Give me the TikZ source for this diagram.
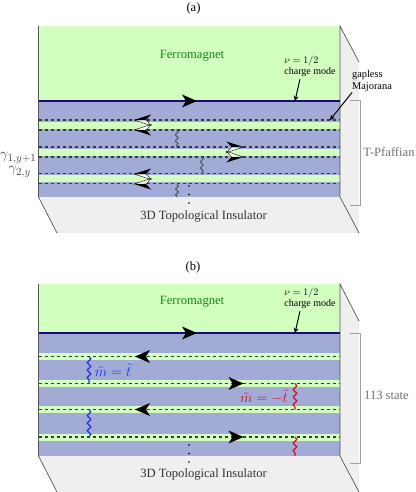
\documentclass[tikz,border=0pt]{standalone}
\usepackage{fontspec}
\setmainfont{Liberation Serif}
\usetikzlibrary{arrows.meta,decorations.pathmorphing}
\definecolor{fm}{HTML}{D2FFC0}
\definecolor{ti}{HTML}{A2AAD6}
\definecolor{gr}{HTML}{EFEFEF}
\definecolor{edgeline}{HTML}{555555}
\definecolor{navy}{HTML}{1A0A7A}
\definecolor{fmtext}{HTML}{118811}
\definecolor{dashcol}{HTML}{3A3A3A}
\definecolor{bluew}{HTML}{1A35E0}
\definecolor{redw}{HTML}{CC1122}
\definecolor{grayw}{HTML}{4A5C60}
\definecolor{brkcol}{HTML}{A0A0A0}
\definecolor{sidetxt}{HTML}{707070}
\tikzset{
  x=1pt,y=-1pt,
  lbl/.style={inner sep=0pt,font=\fontsize{12.6}{13}\selectfont},
  smalltxt/.style={inner sep=0pt,font=\fontsize{10}{11.3}\selectfont,align=left},
  mathtxt/.style={inner sep=0pt,font=\fontsize{15}{16}\selectfont},
  gamtxt/.style={inner sep=0pt,anchor=east,text=gray!50!black,font=\fontsize{15}{16}\selectfont},
  dashln/.style={draw=dashcol,line width=1.3pt,dash pattern=on 3.5pt off 2.5pt},
  dashb/.style={draw=dashcol,line width=1.4pt,dash pattern=on 3.5pt off 2.5pt},
  brk/.style={draw=brkcol,line width=1pt},
  wig/.style={decorate,decoration={snake,amplitude=1.8pt,segment length=7.5pt},line width=1.2pt},
  wiga/.style={decorate,decoration={snake,amplitude=1.4pt,segment length=6pt},line width=1.1pt,draw=grayw},
  charge/.style={navy,line width=1.5pt},
  ptr/.style={-{Stealth[length=5pt,width=5pt]},line width=1pt,black},
  edgeln/.style={edgeline,line width=.7pt},
}
\newcommand{\headR}[2]{\fill[black] (#1+7.5,#2) -- (#1-7.5,#2-6.5) -- (#1-3.5,#2) -- (#1-7.5,#2+6.5) -- cycle;}
\newcommand{\headL}[2]{\fill[black] (#1-7.5,#2) -- (#1+7.5,#2-6.5) -- (#1+3.5,#2) -- (#1+7.5,#2+6.5) -- cycle;}
\newcommand{\halfhead}[4]{%
  \fill[white,draw=black,line width=.4pt] (#1,#2) -- (#1+#3*17,#2-#4*5.5) -- (#1+#3*12,#2) -- cycle;
  \fill[black] (#1,#2) -- (#1+#3*17,#2+#4*5.5) -- (#1+#3*12,#2) -- cycle;
}
\begin{document}
\begin{tikzpicture}
\useasboundingbox (0,0) rectangle (415,492);
% ---------- panel a
\node[lbl] (la) at (193.5,8) {(a)};
\fill[gr] (340,26) -- (359,62) -- (359,233) -- (57,233) -- (38.5,197) -- cycle;
\fill[fm] (38.5,26) rectangle (340,101);
\fill[ti] (38.5,101) rectangle (340,197);
\foreach \y in {125,152,178.5}{
  \fill[fm] (38.5,\y-3.5) rectangle (340,\y+3.5);
  \draw[dashln] (38.5,\y-5) -- (340,\y-5);
  \draw[dashln] (38.5,\y+5) -- (340,\y+5);
}
\draw[edgeln] (38.5,26) -- (38.5,197) -- (57,233);
\draw[edgeln] (359,62) -- (340,26) -- (340,197) -- (359,233);
\draw[charge] (38.5,101) -- (340,101);
\headR{189.5}{101}
\draw[brk] (350,101) -- (360.7,101) -- (360.7,205) -- (350,205);
\node[lbl,fmtext] (fa) at (192,56) {Ferromagnet};
\node[lbl,text=black!80] (tia) at (203.5,216) {3D Topological Insulator};
\node[smalltxt] (cha) at (310,66.5) {$\nu=1/2$\\charge mode};
\coordinate (cpa) at (295,101);
\draw[ptr] (300,79) -- (cpa);
\node[smalltxt,font=\fontsize{10.4}{12.6}\selectfont] (gm) at (372,81) {gapless\\Majorana};
\coordinate (mpa) at (330,120);
\draw[ptr] (352,92.5) -- (mpa);
\node[lbl,text=sidetxt] (tp) at (389,152) {T-Pfaffian};
\node[gamtxt] (g1) at (36.5,158) {$\gamma_{1,y+1}$};
\node[gamtxt] (g2) at (31,172) {$\gamma_{2,y}$};
\halfhead{134}{120}{1}{-1}
\halfhead{134}{130}{1}{1}
\halfhead{134}{174}{1}{-1}
\halfhead{134}{184}{1}{1}
\halfhead{243.5}{147}{-1}{-1}
\halfhead{243.5}{157}{-1}{1}
\foreach \xx/\yy/\yb in {176.7/130/147,201.7/157/174,177/184/197}{
  \draw[wiga] (\xx,\yy) -- (\xx,\yb);
}
\foreach \y in {186,194.5,203}{\fill[black] (189,\y) circle (.9);}
% ---------- panel b
\node[lbl] (lb) at (193,267) {(b)};
\fill[gr] (340,284) -- (359,321) -- (359,492) -- (57,492) -- (38.5,456) -- cycle;
\fill[fm] (38.5,284) rectangle (340,333);
\fill[ti] (38.5,333) rectangle (340,456);
\foreach \y in {356.5,383.5,409.5,437}{
  \fill[fm] (38.5,\y-3.5) rectangle (340,\y+3.5);
  \draw[dashb] (38.5,\y) -- (340,\y);
}
\draw[edgeln] (38.5,284) -- (38.5,456) -- (57,492);
\draw[edgeln] (359,321) -- (340,284) -- (340,456) -- (359,492);
\draw[charge] (38.5,333) -- (340,333);
\headR{189.5}{333}
\headL{142.5}{356.5}
\headL{142.5}{409.5}
\headR{236}{383.5}
\headR{236}{437}
\draw[brk] (350,333) -- (360.7,333) -- (360.7,463.3) -- (350,463.3);
\node[lbl,fmtext] (fb) at (192,302) {Ferromagnet};
\node[lbl,text=black!80] (tib) at (203.5,474) {3D Topological Insulator};
\node[smalltxt] (chb) at (310,298.5) {$\nu=1/2$\\charge mode};
\coordinate (cpb) at (295,333);
\draw[ptr] (300,311) -- (cpb);
\node[lbl,text=sidetxt] (st) at (386.5,395) {113 state};
\draw[wig,bluew] (89,356.5) -- (89,383.5);
\draw[wig,bluew] (89,409.5) -- (89,437);
\draw[wig,redw] (295,383.5) -- (295,409.5);
\draw[wig,redw] (295,437) -- (295,456);
\node[mathtxt,text=bluew] (mb) at (113,370) {$\tilde m=\tilde t$};
\node[mathtxt,text=redw] (mr) at (264,397) {$\tilde m=-\tilde t$};
\foreach \y in {445,453.5,462}{\fill[black] (189,\y) circle (.9);}
\end{tikzpicture}
\end{document}
